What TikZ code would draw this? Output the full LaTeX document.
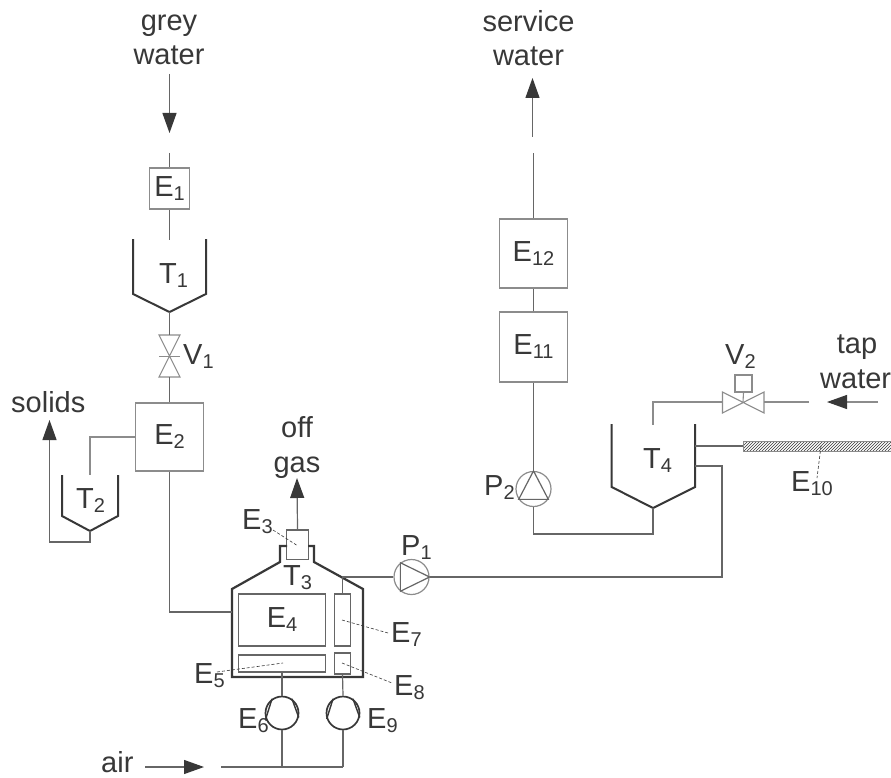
\documentclass[tikz,border=0pt]{standalone}
\usepackage{fontspec}
\setmainfont{Liberation Sans}
\usetikzlibrary{arrows.meta,patterns}
\newcommand{\sbs}[1]{\raisebox{-4pt}{\fontsize{20}{20}\selectfont #1}}
\newcommand{\txtsize}{\fontsize{29}{32}\selectfont}
\definecolor{ink}{gray}{0.22}
\definecolor{pipe}{gray}{0.40}
\definecolor{thin}{gray}{0.55}
\tikzset{
  x=1pt,y=-1pt,
  every node/.style={text=ink,font=\txtsize,inner sep=0pt},
  pipeline/.style={draw=pipe,line width=1.2pt},
  thinline/.style={draw=thin,line width=1.1pt},
  tankwall/.style={draw=ink,line width=2pt,line join=miter},
  vesselwall/.style={draw=ink,line width=2.2pt,line join=miter},
  boxnode/.style={draw=thin,line width=1.2pt,fill=white,minimum width=#1},
  boxnode/.default=40pt,
  inner box/.style={draw=pipe,line width=1.1pt},
  lbl/.style={anchor=base west},
  leader/.style={draw=ink,line width=.6pt,dashed,dash pattern=on 3pt off 2pt},
  flow/.style={draw=pipe,line width=1.2pt,-{Triangle[length=20pt,width=14pt,color=ink]}},
  valvebody/.style={draw=thin,line width=1.1pt},
  pumpthin/.style={draw=thin,line width=1.2pt,circle,minimum size=35pt},
  blowerbody/.style={draw=ink,line width=1.7pt,circle,minimum size=33pt},
}
\begin{document}
\begin{tikzpicture}
\useasboundingbox (0,0) rectangle (891,778);
\fill[white] (0,0) rectangle (891,778);

% text labels of streams
\node (greytxt) [anchor=base] at (169,31) {grey};
\node (greytxt2) [anchor=base] at (169,65) {water};
\node (servtxt) [anchor=base] at (528.5,32) {service};
\node (servtxt2) [anchor=base] at (528.5,66) {water};
\node (offtxt) [anchor=base] at (297,437) {off};
\node (offtxt2) [anchor=base] at (297,472) {gas};
\node (taptxt) [anchor=base] at (857,353) {tap};
\node (taptxt2) [lbl] at (820,388) {water};
\node (solidstxt) [lbl] at (11,412) {solids};
\node (airtxt) [lbl] at (101,772) {air};

% boxes
\node (e1) [boxnode=40.5pt,minimum height=41pt] at (169.5,188.5) {E\sbs{1}};
\node (e2) [boxnode=67.5pt,minimum height=68pt] at (169.5,437) {E\sbs{2}};
\node (e12) [boxnode=68pt,minimum height=69pt] at (533.5,253.5) {E\sbs{12}};
\node (e11) [boxnode=68pt,minimum height=70pt] at (533.5,347) {E\sbs{11}};
\node (e3) [draw=pipe,line width=1.1pt,minimum width=21.5pt,minimum height=29.5pt] at (297.5,544.7) {};
\node (e4) [inner box,minimum width=86.5pt,minimum height=52pt] at (282,620) {E\sbs{4}};
\node (e5) [inner box,minimum width=86.5pt,minimum height=17pt] at (282,663.5) {};
\node (e7) [inner box,minimum width=16pt,minimum height=52pt] at (342.5,620) {};
\node (e8) [inner box,minimum width=16pt,minimum height=21pt] at (342.5,663.5) {};

% tank T1
\coordinate (t1l) at (133,239);
\coordinate (t1r) at (206,239);
\coordinate (t1a) at (169.5,312);
\coordinate (t1in) at (169.5,240);
\draw[tankwall] (t1l) -- (133,294) -- (t1a) -- (206,294) -- (t1r);
\node (t1txt) [lbl] at (159,283) {T\sbs{1}};
% tank T2
\coordinate (t2l) at (62,475);
\coordinate (t2r) at (118,475);
\coordinate (t2a) at (90,531);
\coordinate (t2in) at (90,475);
\draw[tankwall] (t2l) -- (62,516) -- (t2a) -- (118,516) -- (t2r);
\node (t2txt) [lbl] at (76,508) {T\sbs{2}};
% tank T4
\coordinate (t4l) at (611.7,424);
\coordinate (t4r) at (695,424);
\coordinate (t4a) at (653,508);
\coordinate (t4in) at (653,425);
\draw[tankwall] (t4l) -- (611.7,487) -- (t4a) -- (695,487) -- (t4r);
\node (t4txt) [lbl] at (643,468) {T\sbs{4}};

% vessel T3
\draw[vesselwall] (287,546) -- (280,546) -- (280,562) -- (232,589) -- (232,677) -- (363,677) -- (363,589) -- (314,562) -- (314,546) -- (308,546);
\node (t3txt) [lbl] at (283,585) {T\sbs{3}};

% valve V1
\coordinate (v1) at (169.5,356.5);
\draw[valvebody] (159,335) -- (180,335) -- (159,377) -- (180,377) -- cycle;
\draw[valvebody] (159,356.5) -- (180,356.5);
\coordinate (v1t) at (169.5,335);
\coordinate (v1b) at (169.5,377);
\node (v1txt) [lbl] at (183,364) {V\sbs{1}};

% valve V2
\coordinate (v2) at (743,402);
\coordinate (v2l) at (722.5,402);
\coordinate (v2r) at (764,402);
\draw[valvebody] (722.5,392) -- (764,413) -- (764,392) -- (722.5,413) -- cycle;
\node (v2act) [draw=thin,line width=1.1pt,minimum size=17pt] at (743.5,383.5) {};
\draw[valvebody] (v2act.south) -- (v2);
\node (v2txt) [lbl] at (725,364) {V\sbs{2}};

% pumps
\node (p1) [pumpthin] at (411.5,577) {};
\draw[pipeline] (p1.128) -- (p1.232) -- (p1.0) -- cycle;
\node (p1txt) [lbl] at (401,555) {P\sbs{1}};
\node (p2) [pumpthin] at (533.5,489) {};
\draw[pipeline] (p2.90) -- (p2.215) -- (p2.325) -- cycle;
\node (p2txt) [lbl] at (484,495) {P\sbs{2}};

% blowers
\node (e6) [blowerbody] at (282,713) {};
\node (e9) [blowerbody] at (343,713) {};
\draw[draw=ink,line width=1.4pt] (e6.125) -- (e6.200) (e6.55) -- (e6.345);
\draw[draw=ink,line width=1.4pt] (e9.125) -- (e9.200) (e9.55) -- (e9.345);
\node (e6txt) [lbl] at (238,728) {E\sbs{6}};
\node (e9txt) [lbl] at (367,728) {E\sbs{9}};

% E10 filter
\node (e10) [anchor=west,draw=thin,line width=.8pt,pattern=north east lines,pattern color=ink,minimum width=150pt,minimum height=10pt] at (743,446) {};
\node (e10txt) [lbl] at (791,491) {E\sbs{10}};

% other labels
\node (e3txt) [lbl] at (242,529) {E\sbs{3}};
\node (e5txt) [lbl] at (194,683) {E\sbs{5}};
\node (e7txt) [lbl] at (391,642) {E\sbs{7}};
\node (e8txt) [lbl] at (394,695) {E\sbs{8}};

% leaders
\coordinate (l3a) at (273,530); \coordinate (l3b) at (298,546);
\coordinate (l5a) at (217,672); \coordinate (l5b) at (283,663);
\coordinate (l7a) at (342,620); \coordinate (l7b) at (388,633);
\coordinate (l8a) at (342,663); \coordinate (l8b) at (392,683);
\coordinate (l10a) at (821,446); \coordinate (l10b) at (817,478);
\draw[leader] (l3a) -- (l3b);
\draw[leader] (l5a) -- (l5b);
\draw[leader] (l7a) -- (l7b);
\draw[leader] (l8a) -- (l8b);
\draw[leader] (l10a) -- (l10b);

% grey water stream
\coordinate (gwstart) at (169.5,74);
\coordinate (gwtip) at (169.5,133);
\coordinate (e1top) at (169.5,153);
\draw[flow] (gwstart) -- (gwtip);
\draw[pipeline] (e1top) -- (e1.north);
\draw[pipeline] (e1.south) -- (t1in);
\draw[pipeline] (t1a) -- (v1t);
\draw[pipeline] (v1b) -- (e2.north);
% solids
\coordinate (t2jog) at (90,542);
\coordinate (solj) at (49.5,542);
\coordinate (soltip) at (49.5,420);
\draw[thinline] (e2.west) -- (90,437) -- (t2in);
\draw[flow] (t2a) -- (t2jog) -- (solj) -- (soltip);
% E2 to vessel
\coordinate (vessin) at (232,612);
\draw[pipeline] (e2.south) -- (169.5,612) -- (vessin);
% off gas
\coordinate (offtip) at (297,478);
\draw[flow] (e3.north) -- (offtip);
% E7 to P1 to T4
\coordinate (j1) at (342.5,577);
\draw[pipeline] (e7.north) -- (j1) -- (p1.west);
\coordinate (t4ret) at (695,466);
\draw[pipeline] (p1.east) -- (722,577) -- (722,466) -- (t4ret);
\coordinate (t4e10) at (695,446);
\draw[pipeline] (t4e10) -- (e10.west);
% T4 to P2 to service water
\draw[pipeline] (t4a) -- (653,534) -- (533.5,534) -- (p2.south);
\draw[pipeline] (p2.north) -- (e11.south);
\draw[pipeline] (e11.north) -- (e12.south);
\coordinate (swgap) at (533.5,153);
\coordinate (swgap2) at (532.5,137);
\coordinate (swtip) at (532.5,78);
\draw[pipeline] (e12.north) -- (swgap);
\draw[flow] (swgap2) -- (swtip);
% tap water
\coordinate (twstart) at (878,402);
\coordinate (twtip) at (827,402);
\coordinate (v2rr) at (809,402);
\draw[draw=thin,line width=1.1pt,-{Triangle[length=20pt,width=14pt,color=ink]}] (twstart) -- (twtip);
\draw[thinline] (v2rr) -- (v2r);
\draw[thinline] (v2l) -- (653,402) -- (t4in);
% air
\coordinate (airstart) at (145,767);
\coordinate (airtip) at (204,767);
\coordinate (airline) at (221,767);
\coordinate (airj6) at (282,767);
\coordinate (airj9) at (343,767);
\draw[flow] (airstart) -- (airtip);
\draw[pipeline] (airline) -- (airj6) -- (airj9);
\draw[pipeline] (airj6) -- (e6.south);
\draw[pipeline] (airj9) -- (e9.south);
\draw[pipeline] (e6.north) -- (e5.south);
\draw[pipeline] (e9.north) -- (e8.south);
\end{tikzpicture}
\end{document}
